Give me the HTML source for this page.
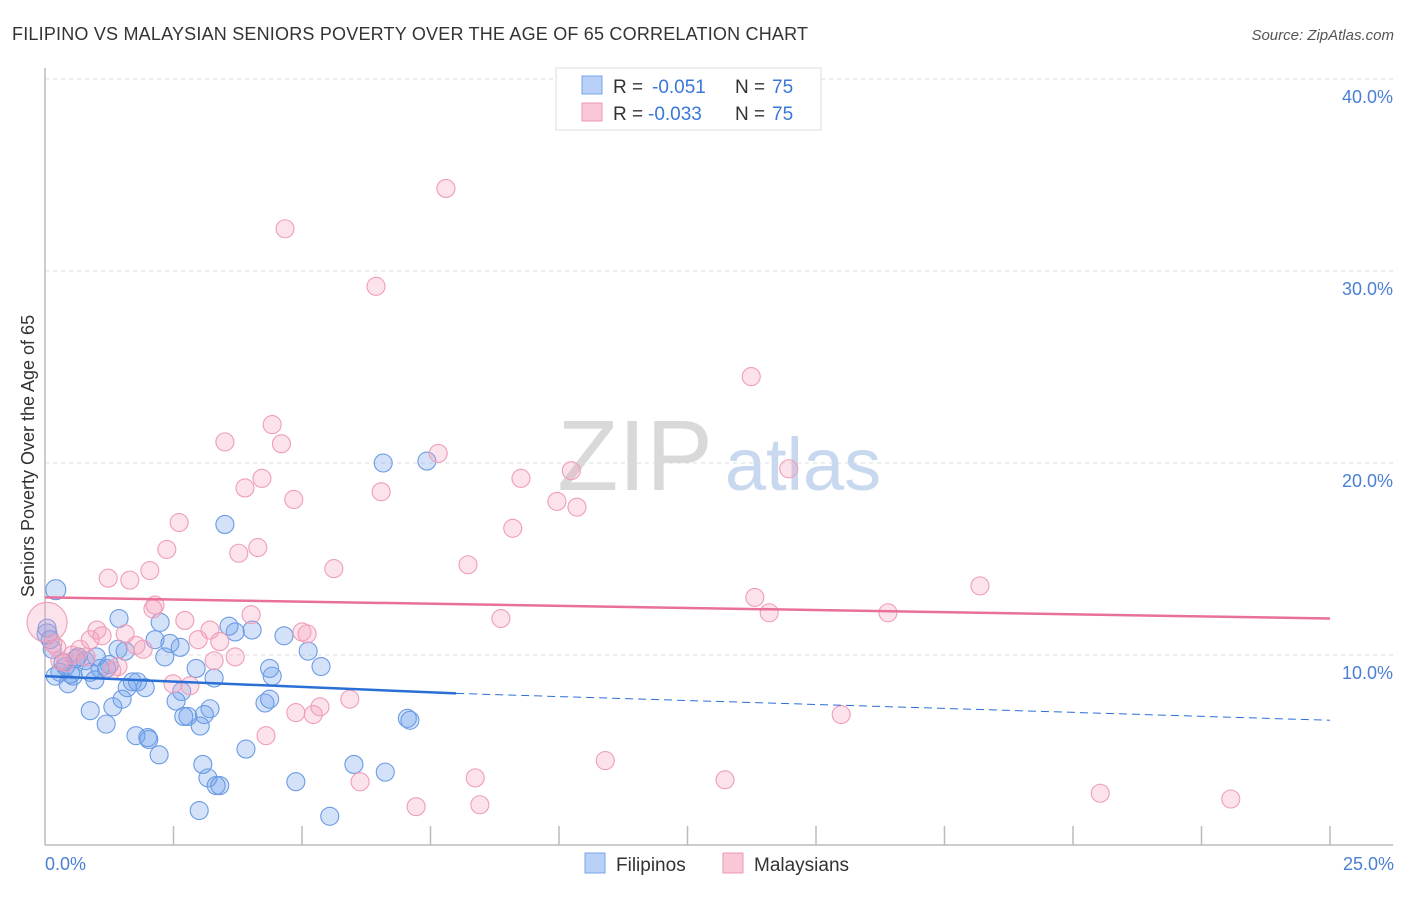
<!DOCTYPE html>
<html><head><meta charset="utf-8">
<style>
body{margin:0;background:#fff;font-family:"Liberation Sans",sans-serif;}
svg text{font-family:"Liberation Sans",sans-serif;}
</style></head>
<body>
<svg id="chart" width="1406" height="892" xmlns="http://www.w3.org/2000/svg">
<text x="12" y="40" font-size="18" fill="#333" textLength="796">FILIPINO VS MALAYSIAN SENIORS POVERTY OVER THE AGE OF 65 CORRELATION CHART</text>
<text x="1394" y="40" font-size="15" fill="#555" text-anchor="end" font-style="italic">Source: ZipAtlas.com</text>
<g>
<text x="635" y="490" font-size="100" fill="#d9d9d9" font-family="Liberation Serif,serif" text-anchor="middle">ZIP</text>
<text x="803" y="490" font-size="74" fill="#c8d8ef" text-anchor="middle">atlas</text>
</g>
<g id="grid"></g>
<g id="axes"></g>
<g id="pts"></g>
<g id="trends"></g>
<text transform="translate(34,456) rotate(-90)" font-size="18" fill="#333" text-anchor="middle">Seniors Poverty Over the Age of 65</text>
<text x="45" y="870" font-size="18" fill="#4a7fd4">0.0%</text>
<text x="1394" y="870" font-size="18" fill="#4a7fd4" text-anchor="end">25.0%</text>
<g>
<rect x="556" y="68" width="265" height="62" fill="#fff" stroke="#ddd"/>
<rect x="582" y="76" width="20" height="18" fill="#b8d0f5" stroke="#7aa5e8"/>
<rect x="582" y="103" width="20" height="18" fill="#f9c7d6" stroke="#ec9ab5"/>
<text x="613" y="93" font-size="19" fill="#333">R =</text>
<text x="652" y="93" font-size="19" fill="#3a78d8">-0.051</text>
<text x="735" y="93" font-size="19" fill="#333">N =</text>
<text x="772" y="93" font-size="19" fill="#3a78d8">75</text>
<text x="613" y="120" font-size="19" fill="#333">R =</text>
<text x="648" y="120" font-size="19" fill="#3a78d8">-0.033</text>
<text x="735" y="120" font-size="19" fill="#333">N =</text>
<text x="772" y="120" font-size="19" fill="#3a78d8">75</text>
</g>
<g>
<rect x="585" y="853" width="20" height="20" fill="#b8d0f5" stroke="#7aa5e8"/>
<text x="616" y="871" font-size="19" fill="#333">Filipinos</text>
<rect x="723" y="853" width="20" height="20" fill="#f9c7d6" stroke="#ec9ab5"/>
<text x="754" y="871" font-size="19" fill="#333">Malaysians</text>
</g>
</svg>
<script>
const yTicks=[10,20,30,40];
const yTickLabels=["10.0%","20.0%","30.0%","40.0%"];
const xTicks=[0,2.5,5,7.5,10,12.5,15,17.5,20,22.5,25];
const filX=[0.21,0.04,0.1,0.14,0.29,0.45,0.55,0.78,0.88,1.07,0.97,1.25,1.44,1.56,1.42,0.88,1.19,1.32,1.5,1.6,1.8,1.95,1.77,2.0,2.22,2.14,2.24,2.33,2.43,2.63,2.55,2.66,2.78,2.94,3.02,3.07,3.17,3.33,3.4,3.21,3.29,3.5,3.58,3.7,4.03,3.91,3.0,4.28,4.37,4.37,4.42,4.65,4.88,5.12,5.37,5.54,6.01,6.58,6.62,7.05,7.1,7.43,0.04,0.35,0.64,0.6,0.4,1.0,1.7,2.02,2.7,0.2,0.5,1.2,3.1];
const filY=[13.4,11.4,10.8,10.3,9.1,8.5,8.9,9.7,9.1,9.3,8.7,9.5,11.9,10.2,10.3,7.1,6.4,7.3,7.7,8.3,8.6,8.3,5.8,5.7,4.8,10.8,11.7,9.9,10.6,10.4,7.6,8.1,6.8,9.3,6.3,4.3,3.6,3.2,3.2,7.2,8.8,16.8,11.5,11.2,11.3,5.1,1.9,7.5,7.7,9.3,8.9,11.0,3.4,10.2,9.4,1.6,4.3,20.0,3.9,6.7,6.6,20.1,11.1,9.6,9.9,9.8,9.4,9.9,8.6,5.6,6.8,8.9,9.0,9.3,6.9];
const malX=[0.04,0.23,0.29,0.53,0.68,0.88,1.01,1.11,1.23,1.42,1.56,1.65,1.77,1.91,2.04,2.14,2.37,2.49,2.61,2.72,2.82,2.98,3.21,3.29,3.4,3.5,3.7,3.77,3.89,4.01,4.14,4.22,4.3,4.42,4.6,4.67,4.84,4.88,5.0,5.1,5.22,5.35,5.62,5.93,6.13,6.44,6.54,7.22,7.65,7.8,8.23,8.37,8.46,8.87,9.1,9.26,9.96,10.24,10.35,10.9,13.23,13.74,13.81,14.09,14.47,15.49,16.4,18.19,20.53,23.07,0.4,0.8,1.3,2.1,0.15];
const malY=[11.7,10.4,9.7,10.0,10.3,10.8,11.3,11.0,14.0,9.4,11.1,13.9,10.5,10.3,14.4,12.6,15.5,8.5,16.9,11.8,8.4,10.8,11.3,9.7,10.7,21.1,9.9,15.3,18.7,12.1,15.6,19.2,5.8,22.0,21.0,32.2,18.1,7.0,11.2,11.1,6.9,7.3,14.5,7.7,3.4,29.2,18.5,2.1,20.5,34.3,14.7,3.6,2.2,11.9,16.6,19.2,18.0,19.6,17.7,4.5,3.5,24.5,13.0,12.2,19.7,6.9,12.2,13.6,2.8,2.5,9.6,9.9,9.2,12.4,10.6];
const filTrend=[8.9,6.6], malTrend=[13.0,11.9], filSolidEnd=8.0;
const X=v=>45+v*(1330-45)/25, Y=v=>847-v*19.2;
const NS='http://www.w3.org/2000/svg';
function mk(t,a,p){const e=document.createElementNS(NS,t);for(const k in a)e.setAttribute(k,a[k]);p.appendChild(e);return e;}
const grid=document.getElementById('grid'),axes=document.getElementById('axes'),pts=document.getElementById('pts'),tr=document.getElementById('trends');
yTicks.forEach((t,i)=>{
 const l=mk('line',{x1:45,x2:1393,y1:Y(t),y2:Y(t),stroke:'#ddd','stroke-dasharray':'4,4'},grid);
 
 
 const tx=mk('text',{x:1393,y:Y(t)+24,'font-size':18,fill:'#4a7fd4','text-anchor':'end'},grid);
 tx.textContent=yTickLabels[i];
 
 
});
let a=mk('line',{x1:45,x2:45,y1:68,y2:845,stroke:'#bbb','stroke-width':1.5},axes);


a=mk('line',{x1:45,x2:1393,y1:845,y2:845,stroke:'#bbb','stroke-width':1.5},axes);


xTicks.slice(1).forEach(t=>{
 const k=mk('line',{x1:X(t),x2:X(t),y1:826,y2:845,stroke:'#bbb','stroke-width':1.5},axes);
 
 
});
filX.forEach((v,i)=>{
 const c=mk('circle',{cx:X(v),cy:Y(filY[i]),r:i===0||i===62?10:9,fill:'rgba(110,160,235,0.3)',stroke:'#6b9be3','stroke-width':1.1},pts);
 
 
});
malX.forEach((v,i)=>{
 const c=mk('circle',{cx:X(v),cy:Y(malY[i]),r:i===0?20:9,fill:'rgba(245,160,190,0.3)',stroke:'#ef9db8','stroke-width':1.1},pts);
 
 
});
let t=mk('line',{x1:X(0),y1:Y(malTrend[0]),x2:X(25),y2:Y(malTrend[1]),stroke:'#e8709a','stroke-width':2.5},tr);


t=mk('line',{x1:X(0),y1:Y(filTrend[0]),x2:X(8),y2:Y(filSolidEnd),stroke:'#2a6fd6','stroke-width':2.5},tr);


t=mk('line',{x1:X(8),y1:Y(filSolidEnd),x2:X(25),y2:Y(filTrend[1]),stroke:'#2a6fd6','stroke-width':1,'stroke-dasharray':'8,5'},tr);


</script>
</body></html>
